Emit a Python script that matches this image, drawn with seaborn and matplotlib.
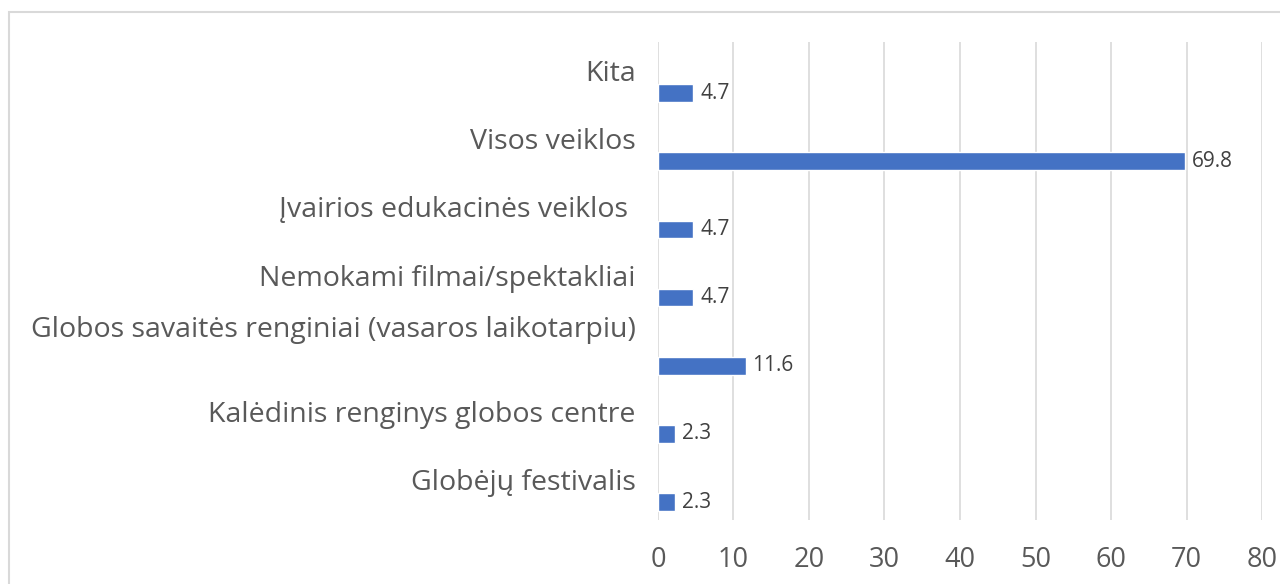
import pandas as pd
import matplotlib.pyplot as plt
import seaborn as sns
from matplotlib.patches import Rectangle

# Chart data (top to bottom as shown)
categories = [
    'Kita',
    'Visos veiklos',
    'Įvairios edukacinės veiklos ',
    'Nemokami filmai/spektakliai',
    'Globos savaitės renginiai (vasaros laikotarpiu)',
    'Kalėdinis renginys globos centre',
    'Globėjų festivalis',
]
values = [4.7, 69.8, 4.7, 4.7, 11.6, 2.3, 2.3]
x_ticks = [0, 10, 20, 30, 40, 50, 60, 70, 80]

df = pd.DataFrame({'Category': categories, 'Value': values})

sns.set_style('white')
plt.rcParams['font.family'] = ['Open Sans', 'DejaVu Sans']

fig = plt.figure(figsize=(12.8, 5.84), dpi=100)
ax = fig.add_axes([0.514, 0.110, 0.472, 0.818])

# outer chart border like the spreadsheet frame
fig.patches.append(Rectangle((9 / 1280, -0.1), 1.2, 1 - 12 / 584 + 0.1,
                             transform=fig.transFigure, fill=False,
                             edgecolor='#D9D9D9', linewidth=1.5))

sns.barplot(data=df, x='Value', y='Category', orient='h', color='#4472C4',
            width=0.26, saturation=1, ax=ax, zorder=3)

ax.set_xlim(0, 80)
ax.set_ylim(6.26, -0.75)
ax.set_xticks(x_ticks)
ax.set_xticklabels([str(t) for t in x_ticks], fontsize=19.5, color='#595959')
ax.tick_params(axis='x', length=0, pad=19)
ax.set_yticks([])
ax.set_xlabel('')
ax.set_ylabel('')
ax.grid(axis='x', color='#D9D9D9', linewidth=1.2, zorder=0)
for s in ax.spines.values():
    s.set_visible(False)

# category labels sit above-left of each bar
for i, cat in enumerate(categories):
    off = 36 if i == 4 else 19
    ax.annotate(cat, xy=(0, i), xycoords=('axes fraction', 'data'),
                xytext=(-16, off * 0.72), textcoords='offset points',
                ha='right', va='center', fontsize=20.5, color='#595959')

# value labels
for i, v in enumerate(values):
    ax.annotate(f'{v}', xy=(v, i), xytext=(5, 0), textcoords='offset points',
                ha='left', va='center', fontsize=15, color='#404040')

fig.savefig('out.png', dpi=100)
